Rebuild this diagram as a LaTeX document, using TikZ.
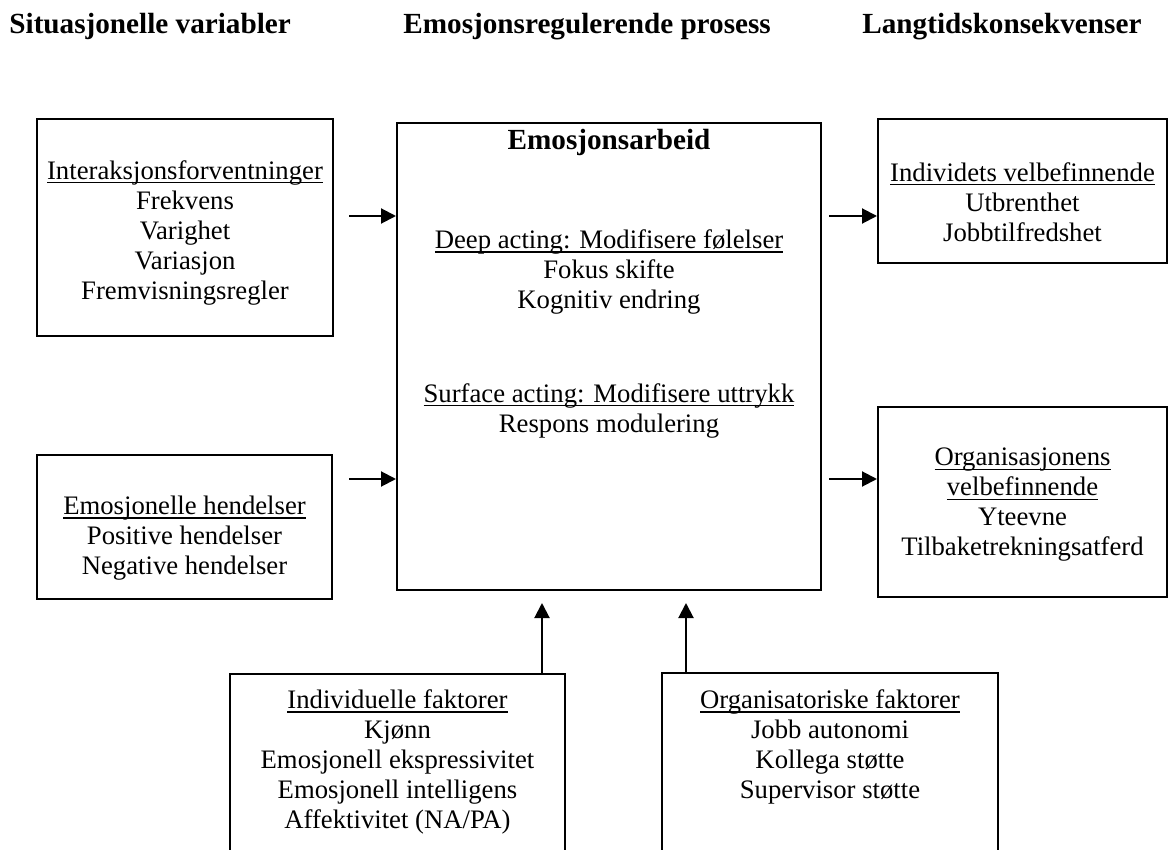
\documentclass[tikz,border=0pt]{standalone}
\usepackage{fontspec}
\setmainfont{Liberation Serif}
\usetikzlibrary{arrows.meta}
\newcommand{\myul}[1]{\leavevmode\setbox0\hbox{#1}\rlap{\rule[-2.1pt]{\wd0}{0.75pt}}\box0}
\begin{document}
\begin{tikzpicture}[x=0.5pt,y=-0.5pt,
  box/.style 2 args={draw, line width=1pt, inner sep=0pt, minimum width=#1*0.5pt, minimum height=#2*0.5pt},
  txt/.style={align=center, inner sep=0pt, font=\fontsize{13.35}{15}\selectfont},
  ttl/.style={inner sep=0pt, font=\fontsize{14.6}{17}\selectfont\bfseries},
  hdr/.style={inner sep=0pt, anchor=base west, font=\fontsize{14.6}{17}\selectfont\bfseries},
  arr/.style={-{Triangle[length=7.5pt,width=7.5pt]}, line width=1pt}]
\useasboundingbox (0,0) rectangle (1168,850);

% headers
\node[hdr] (h1) at (9,34) {Situasjonelle variabler};
\node[hdr] (h2) at (403,34) {Emosjonsregulerende prosess};
\node[hdr] (h3) at (862,34) {Langtidskonsekvenser};

% left boxes
\node[box={296}{217}] (sit1) at (185,227.5) {};
\node[txt] (sit1t) at (185,232.5) {\myul{Interaksjonsforventninger}\\Frekvens\\Varighet\\Variasjon\\Fremvisningsregler};
\node[box={295}{144}] (sit2) at (184.5,527) {};
\node[txt] (sit2t) at (184.5,538) {\myul{Emosjonelle hendelser}\\Positive hendelser\\Negative hendelser};

% centre box
\node[box={424}{467}] (ea) at (609,356.5) {};
\node[ttl] (eat) at (609,142) {Emosjonsarbeid};
\node[txt] (deep) at (609,272) {\myul{Deep acting: Modifisere følelser}\\Fokus skifte\\Kognitiv endring};
\node[txt] (surf) at (609,410.5) {\myul{Surface acting: Modifisere uttrykk}\\Respons modulering};

% right boxes
\node[box={289}{144}] (indv) at (1022.5,191) {};
\node[txt] (indvt) at (1022.5,202) {\myul{Individets velbefinnende}\\Utbrenthet\\Jobbtilfredshet};
\node[box={289}{190}] (orgv) at (1022.5,502) {};
\node[txt] (orgvt) at (1022.5,505) {\myul{Organisasjonens}\\\myul{velbefinnende}\\Yteevne\\Tilbaketrekningsatferd};

% bottom boxes
\node[box={335}{200}] (indf) at (397.5,774) {};
\node[txt] (indft) at (397.5,762) {\myul{Individuelle faktorer}\\Kjønn\\Emosjonell ekspressivitet\\Emosjonell intelligens\\Affektivitet (NA/PA)};
\node[box={336}{200}] (orgf) at (830,773) {};
\node[txt] (orgft) at (830,747) {\myul{Organisatoriske faktorer}\\Jobb autonomi\\Kollega støtte\\Supervisor støtte};

% arrows
\coordinate (l1) at (349,216);
\coordinate (l2) at (349,479);
\coordinate (r1) at (829,216);
\coordinate (r2) at (829,479);
\coordinate (u1) at (542,603);
\coordinate (u2) at (686,603);
\draw[arr] (l1) -- (l1 -| ea.west);
\draw[arr] (l2) -- (l2 -| ea.west);
\draw[arr] (r1) -- (r1 -| indv.west);
\draw[arr] (r2) -- (r2 -| orgv.west);
\draw[arr] (u1 |- indf.north) -- (u1);
\draw[arr] (u2 |- orgf.north) -- (u2);
\end{tikzpicture}
\end{document}
